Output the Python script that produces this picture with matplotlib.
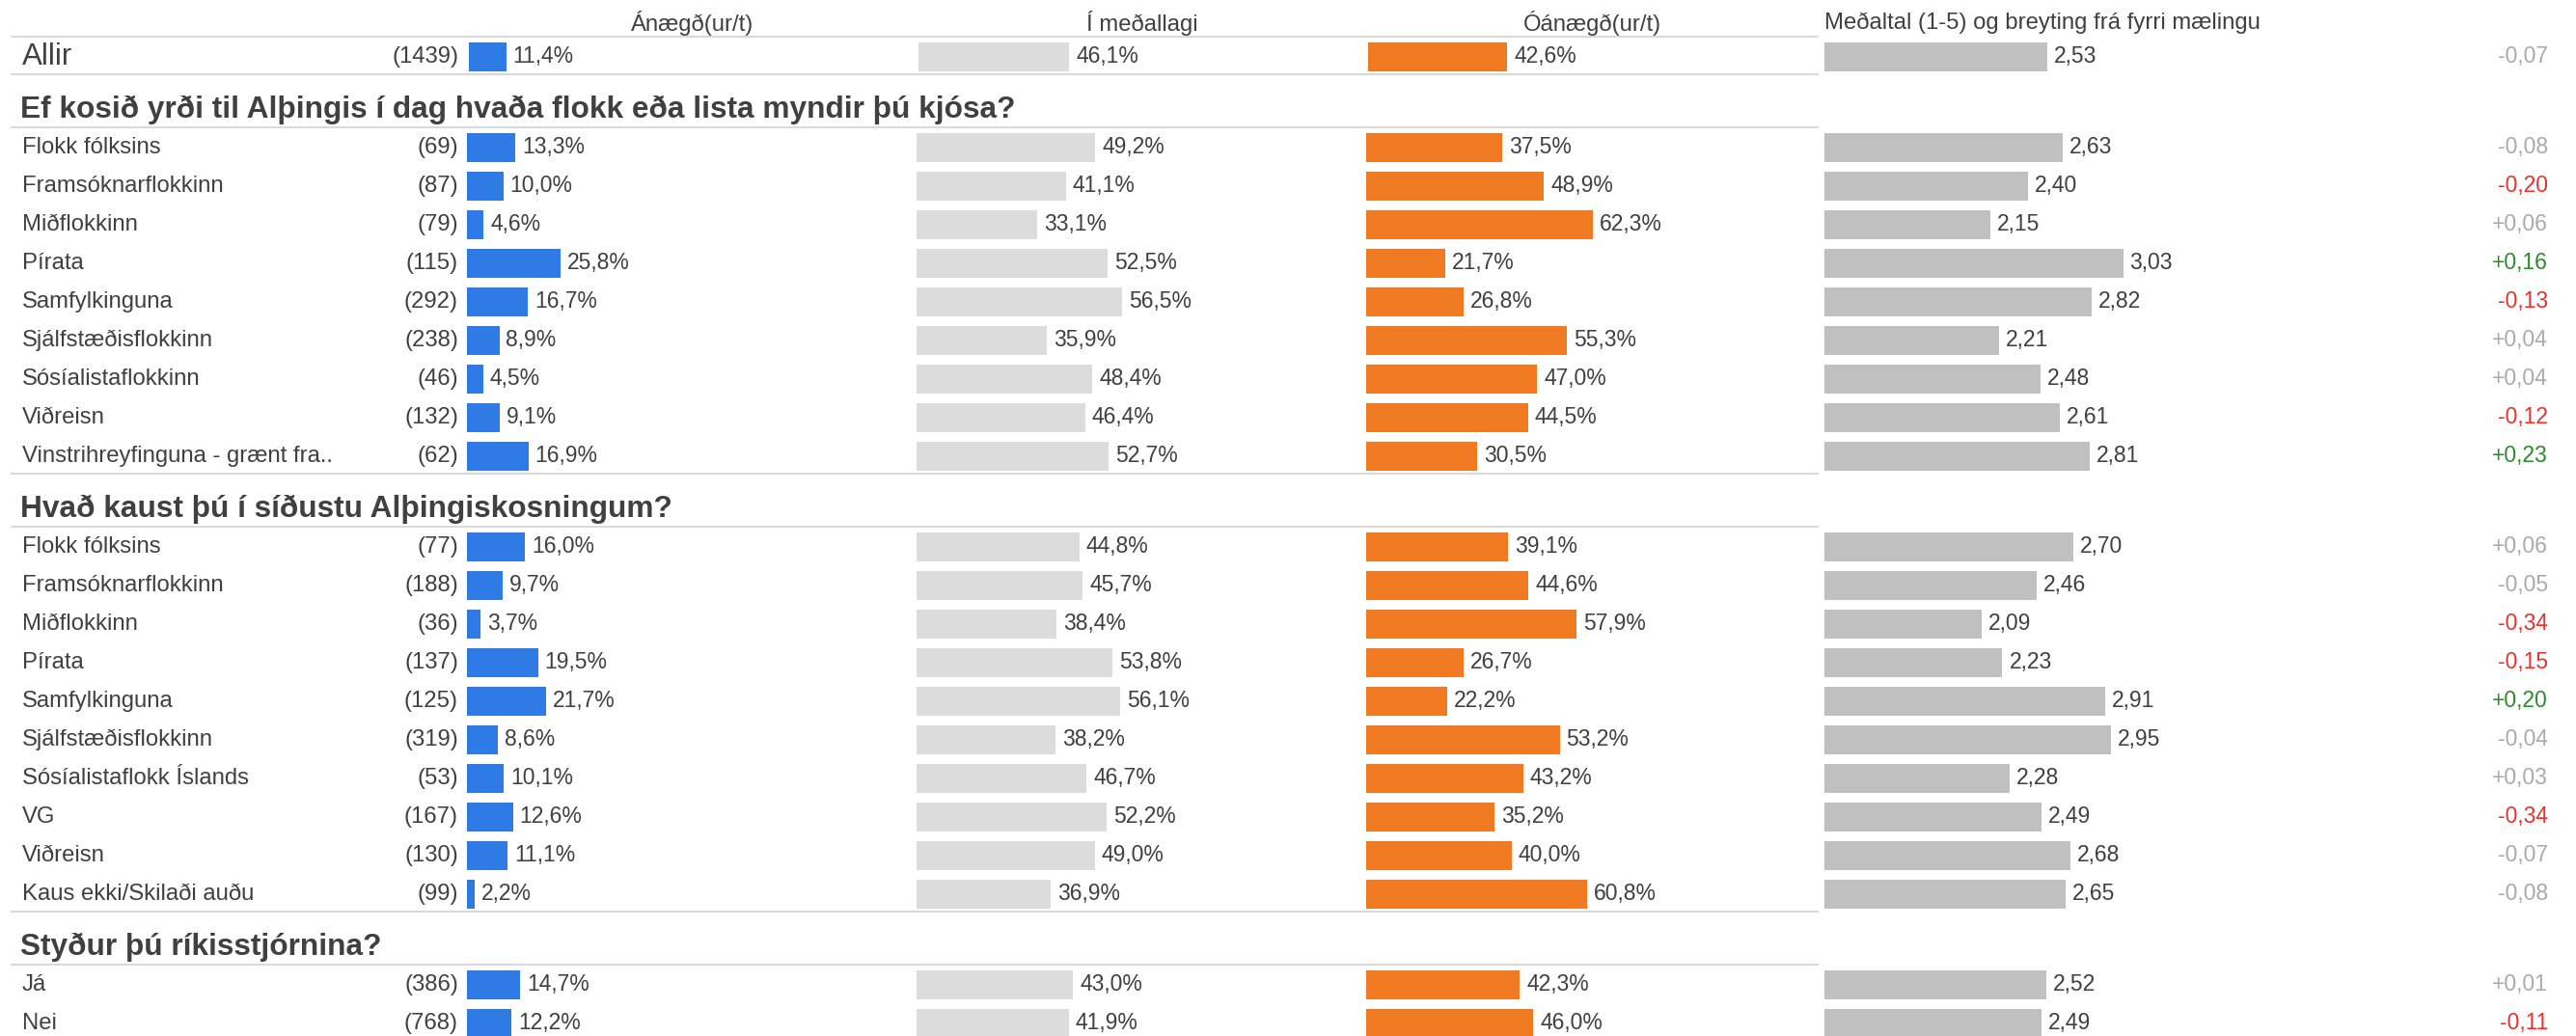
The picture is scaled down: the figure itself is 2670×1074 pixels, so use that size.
import numpy as np
import matplotlib.pyplot as plt

plt.rcParams['font.family'] = ['Liberation Sans', 'DejaVu Sans']

# ---- data ----
col_titles = ['Ánægð(ur/t)', 'Í meðallagi', 'Óánægð(ur/t)',
              'Meðaltal (1-5) og breyting frá fyrri mælingu']

total_label = 'Allir'
total_n = 1439
total_pos = 11.4
total_mid = 46.1
total_neg = 42.6
total_mean = 2.53
total_change = -0.07

s1_title = 'Ef kosið yrði til Alþingis í dag hvaða flokk eða lista myndir þú kjósa?'
s1_labels = ['Flokk fólksins', 'Framsóknarflokkinn', 'Miðflokkinn', 'Pírata', 'Samfylkinguna',
             'Sjálfstæðisflokkinn', 'Sósíalistaflokkinn', 'Viðreisn',
             'Vinstrihreyfinguna - grænt fra..']
s1_n = [69, 87, 79, 115, 292, 238, 46, 132, 62]
s1_pos = [13.3, 10.0, 4.6, 25.8, 16.7, 8.9, 4.5, 9.1, 16.9]
s1_mid = [49.2, 41.1, 33.1, 52.5, 56.5, 35.9, 48.4, 46.4, 52.7]
s1_neg = [37.5, 48.9, 62.3, 21.7, 26.8, 55.3, 47.0, 44.5, 30.5]
s1_mean = [2.63, 2.40, 2.15, 3.03, 2.82, 2.21, 2.48, 2.61, 2.81]
s1_change = [-0.08, -0.20, 0.06, 0.16, -0.13, 0.04, 0.04, -0.12, 0.23]

s2_title = 'Hvað kaust þú í síðustu Alþingiskosningum?'
s2_labels = ['Flokk fólksins', 'Framsóknarflokkinn', 'Miðflokkinn', 'Pírata', 'Samfylkinguna',
             'Sjálfstæðisflokkinn', 'Sósíalistaflokk Íslands', 'VG', 'Viðreisn',
             'Kaus ekki/Skilaði auðu']
s2_n = [77, 188, 36, 137, 125, 319, 53, 167, 130, 99]
s2_pos = [16.0, 9.7, 3.7, 19.5, 21.7, 8.6, 10.1, 12.6, 11.1, 2.2]
s2_mid = [44.8, 45.7, 38.4, 53.8, 56.1, 38.2, 46.7, 52.2, 49.0, 36.9]
s2_neg = [39.1, 44.6, 57.9, 26.7, 22.2, 53.2, 43.2, 35.2, 40.0, 60.8]
s2_mean = [2.70, 2.46, 2.09, 2.23, 2.91, 2.95, 2.28, 2.49, 2.68, 2.65]
s2_change = [0.06, -0.05, -0.34, -0.15, 0.20, -0.04, 0.03, -0.34, -0.07, -0.08]

s3_title = 'Styður þú ríkisstjórnina?'
s3_labels = ['Já', 'Nei']
s3_n = [386, 768]
s3_pos = [14.7, 12.2]
s3_mid = [43.0, 41.9]
s3_neg = [42.3, 46.0]
s3_mean = [2.52, 2.49]
s3_change = [0.01, -0.11]

sections = [
    (s1_title, s1_labels, s1_n, s1_pos, s1_mid, s1_neg, s1_mean, s1_change),
    (s2_title, s2_labels, s2_n, s2_pos, s2_mid, s2_neg, s2_mean, s2_change),
    (s3_title, s3_labels, s3_n, s3_pos, s3_mid, s3_neg, s3_mean, s3_change),
]

# ---- style ----
TXT = '#404040'
BAR_COLORS = ['#2f7be6', '#dcdcdc', '#f07a22']
MEAN_COLOR = '#c0c0c0'
LINE_COLOR = '#d9d9d9'
FS = 16.5       # values
FS_LAB = 17.2   # row labels / column titles

W, H = 2670, 1074
fig = plt.figure(figsize=(W / 100, H / 100), dpi=100)


def px_axes(x0, width, xlim):
    ax = fig.add_axes([x0 / W, 0, width / W, 1])
    ax.set_xlim(*xlim)
    ax.set_ylim(H, 0)
    ax.axis('off')
    return ax


base = px_axes(0, W, (0, W))
pct_starts = [484, 950, 1416]
pct_axes = [px_axes(x, 377, (0, 100)) for x in pct_starts]
pct_axes_total = [px_axes(x + 2, 339, (0, 100)) for x in pct_starts]
mean_ax = px_axes(1891, 383, (1.05, 3.5))

ROW = 40
BAR_H = 30


def change_color(v):
    if v <= -0.1:
        return '#e3342f'
    if v >= 0.1:
        return '#2e8b2e'
    return '#aaaaaa'


def hline(y):
    base.plot([11, 1885], [y, y], color=LINE_COLOR, lw=1.5, solid_capstyle='butt')


def draw_rows(ys, labels, ns, pos, mid, neg, mean, change, paxes, label_fs=FS_LAB):
    for lab, n, y in zip(labels, ns, ys):
        base.text(23, y, lab, fontsize=label_fs, color=TXT, va='center', ha='left')
        base.text(475, y, f'({n})', fontsize=FS_LAB, color=TXT, va='center', ha='right')
    for ax, vals, col in zip(paxes, [pos, mid, neg], BAR_COLORS):
        ax.barh(ys, vals, height=BAR_H, color=col, align='center')
        for v, y in zip(vals, ys):
            ax.annotate(f'{v:.1f}%'.replace('.', ','), (v, y), xytext=(5, 0),
                        textcoords='offset points', fontsize=FS, color=TXT,
                        va='center', ha='left', annotation_clip=False)
    mean_ax.barh(ys, mean, height=BAR_H, color=MEAN_COLOR, align='center')
    for v, y in zip(mean, ys):
        mean_ax.annotate(f'{v:.2f}'.replace('.', ','), (v, y), xytext=(5, 0),
                         textcoords='offset points', fontsize=FS, color=TXT,
                         va='center', ha='left', annotation_clip=False)
    for v, y in zip(change, ys):
        base.text(2641, y, f'{v:+.2f}'.replace('.', ','), fontsize=FS,
                  color=change_color(v), va='center', ha='right')


# column headers
header_y = 24
for x, t in zip(pct_starts, col_titles[:3]):
    base.text(x + 234, header_y, t, fontsize=FS_LAB, color=TXT, ha='center', va='center')
base.text(1891, header_y, col_titles[3], fontsize=FS_LAB, color=TXT, ha='left', va='center')

# total row
y_total = 59
hline(38)
draw_rows([y_total], [total_label], [total_n], [total_pos], [total_mid], [total_neg],
          [total_mean], [total_change], pct_axes_total, label_fs=22.5)
cursor = 77
hline(cursor)

# sections
for i, (title, labels, ns, pos, mid, neg, mean, change) in enumerate(sections):
    ty = cursor + 37
    base.text(21, ty, title, fontsize=22.8, fontweight='bold', color=TXT, va='center', ha='left')
    line2 = ty + 18
    hline(line2)
    ys = line2 + 21 + ROW * np.arange(len(labels))
    draw_rows(ys, labels, ns, pos, mid, neg, mean, change, pct_axes)
    cursor = ys[-1] + 18
    if i < len(sections) - 1:
        hline(cursor)

fig.savefig('out.png', dpi=100, facecolor='white')
